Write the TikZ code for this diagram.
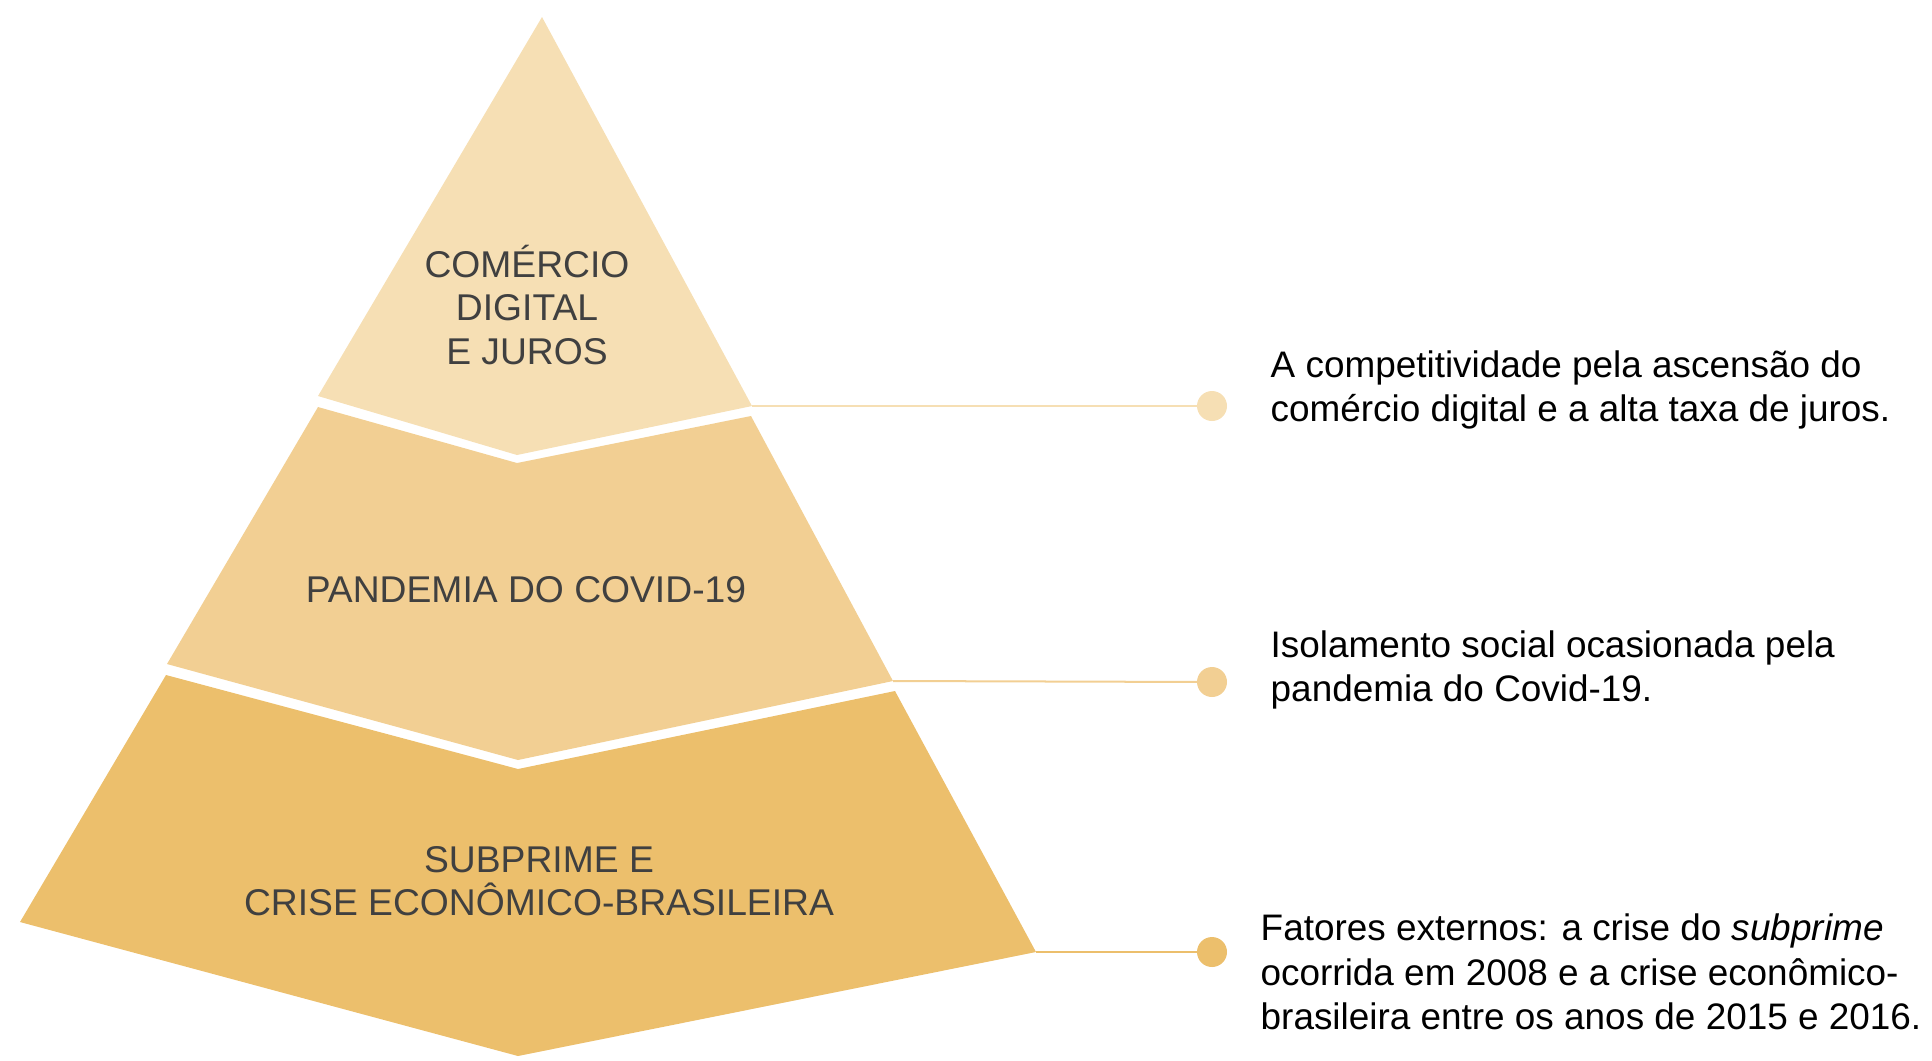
\documentclass[tikz,border=0pt]{standalone}
\usepackage{fontspec}
\setmainfont{Liberation Sans}
\usepackage{tikz}
\usetikzlibrary{positioning}
\definecolor{tiertop}{HTML}{F6DFB4}
\definecolor{tiermid}{HTML}{F2CF93}
\definecolor{tierbase}{HTML}{ECBF6C}
\definecolor{labelgray}{HTML}{404040}

\tikzset{
  tierlabel/.style={text=labelgray, font=\fontsize{10.6}{12.4}\selectfont, align=center, inner sep=0pt},
  notetext/.style={text=black, font=\fontsize{10.5}{12.6}\selectfont, align=left, anchor=west, inner sep=0pt},
  leader/.style={line width=0.57pt},
  enddot/.style={circle, minimum size=3mm, inner sep=0pt}
}

\begin{document}
\begin{tikzpicture}[x=0.1mm, y=-0.1mm]
  % Canvas
  \useasboundingbox (0,0) rectangle (1932,1060);

  % Pyramid tiers
  \fill[tiertop] (542,17) -- (752,406) -- (517,455) -- (318,396) -- cycle;
  \fill[tiermid] (318,407) -- (517,463) -- (751,416) -- (893,681) -- (518,760) -- (167,664) -- cycle;
  \fill[tierbase] (166,675) -- (518,769) -- (895,691) -- (1036,952) -- (518,1056) -- (20,922) -- cycle;

  % Tier corners for the leaders
  \coordinate (topR) at (752,406);
  \coordinate (midR) at (893,681);
  \coordinate (baseR) at (1036,952);

  % Tier labels
  \node[tierlabel] (topLbl) at (527,305) {COMÉRCIO\\DIGITAL\\E JUROS};
  \node[tierlabel] (midLbl) at (526,590) {PANDEMIA DO COVID-19};
  \node[tierlabel] (baseLbl) at (539,881) {SUBPRIME E\\CRISE ECONÔMICO-BRASILEIRA};

  % End dots
  \node[enddot, fill=tiertop] (dotA) at (1212,406) {};
  \node[enddot, fill=tiermid] (dotB) at (1212,682) {};
  \node[enddot, fill=tierbase] (dotC) at (1212,952) {};

  % Leaders
  \draw[leader, tiertop] (topR) -- (dotA.center);
  \draw[leader, tiermid] (midR) -- (dotB.center);
  \draw[leader, tierbase] (baseR) -- (dotC.center);

  % Notes
  \node[notetext] (noteA) at (1270,390) {A competitividade pela ascensão do\\comércio digital e a alta taxa de juros.};
  \node[notetext] (noteB) at (1270,670) {Isolamento social ocasionada pela\\pandemia do Covid-19.};
  \node[notetext] (noteC) at (1260,972) {Fatores externos: a crise do \textit{subprime}\\ocorrida em 2008 e a crise econômico-\\brasileira entre os anos de 2015 e 2016.};
\end{tikzpicture}
\end{document}
